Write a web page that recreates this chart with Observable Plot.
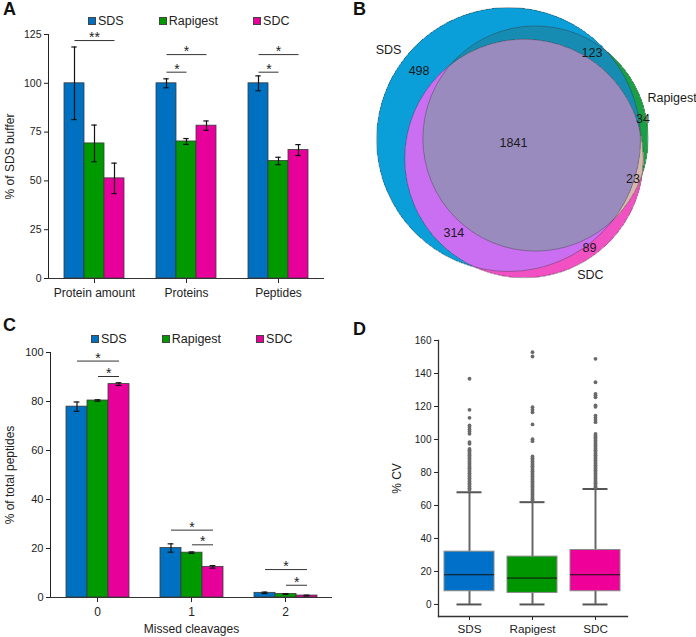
<!DOCTYPE html>
<html>
<head>
<meta charset="utf-8">
<script src="https://cdn.jsdelivr.net/npm/d3@7"></script>
<script src="https://cdn.jsdelivr.net/npm/@observablehq/plot@0.6"></script>
<style>
html, body { margin: 0; padding: 0; background: #fff; }
#fig { position: relative; width: 696px; height: 637px; overflow: hidden; font-family: "Liberation Sans", Arial, sans-serif; color: #222; }
.abs { position: absolute; }
.letter { font-weight: bold; font-size: 18px; line-height: 18px; color: #111; }
.legend { display: flex; gap: 35px; font-size: 12.5px; line-height: 14px; white-space: nowrap; }
.legend .item { display: flex; align-items: center; gap: 2px; }
.legend i { display: inline-block; width: 6px; height: 6px; border: 0.5px solid #444; }
.pa [aria-label="y-axis tick label"] { font-size: 10.5px; }
.pc [aria-label="y-axis tick label"] { font-size: 11px; }
.pd [aria-label="y-axis tick label"] { font-size: 10px; }
.pd [aria-label="x-axis tick label"] { font-size: 11.7px; }
</style>
</head>
<body>
<div id="fig"></div>
<script>
// ---------- shared categories ----------
const series = ["SDS", "Rapigest", "SDC"];

// ---------- Panel A data ----------
const groupsA = ["Protein amount", "Proteins", "Peptides"];
const sdsA = [100, 100, 100];
const rapigestA = [69.2, 70.2, 60.2];
const sdcA = [51.3, 78.3, 65.8];
const sdsErrA = [18.6, 2.3, 3.8];
const rapigestErrA = [9.4, 1.5, 1.9];
const sdcErrA = [7.8, 2.4, 2.8];
const yTicksA = [0, 25, 50, 75, 100, 125];
const sigA = [
  {group: "Protein amount", from: "SDS", to: "SDC", y: 121.9, label: "**"},
  {group: "Proteins", from: "SDS", to: "SDC", y: 114.7, label: "*"},
  {group: "Proteins", from: "SDS", to: "Rapigest", y: 105.7, label: "*"},
  {group: "Peptides", from: "SDS", to: "SDC", y: 114.7, label: "*"},
  {group: "Peptides", from: "SDS", to: "Rapigest", y: 105.7, label: "*"}
];

// ---------- Panel B data ----------
const vennRegionKeys = ["SDS", "SDS&Rapigest", "Rapigest", "SDS&Rapigest&SDC", "Rapigest&SDC", "SDS&SDC", "SDC"];
const vennRegionCounts = [498, 123, 34, 1841, 23, 314, 89];

// ---------- Panel C data ----------
const groupsC = ["0", "1", "2"];
const sdsC = [77.9, 20.2, 1.9];
const rapigestC = [80.4, 18.3, 1.4];
const sdcC = [87.1, 12.5, 0.8];
const sdsErrC = [1.9, 1.7, 0.3];
const rapigestErrC = [0.3, 0.3, 0.15];
const sdcErrC = [0.55, 0.5, 0.15];
const yTicksC = [0, 20, 40, 60, 80, 100];
const sigC = [
  {group: "0", from: "SDS", to: "SDC", y: 96.5, label: "*"},
  {group: "0", from: "Rapigest", to: "SDC", y: 90.2, label: "*"},
  {group: "1", from: "SDS", to: "SDC", y: 27.5, label: "*"},
  {group: "1", from: "Rapigest", to: "SDC", y: 21.5, label: "*"},
  {group: "2", from: "SDS", to: "SDC", y: 11.4, label: "*"},
  {group: "2", from: "Rapigest", to: "SDC", y: 5.0, label: "*"}
];

// ---------- Panel D data ----------
const boxQ1 = [8, 7, 8];
const boxMedian = [18, 16, 18];
const boxQ3 = [32, 29, 33];
const whiskerLow = [0, 0, 0];
const whiskerHigh = [68, 62, 70];
const outliersSDS = [136.8, 118, 113.1, 108.5, 107.5, 106.1, 104.8, 103.4, 98.4, 97.4,
  94.3, 93.5, 92.5, 91.5, 90.5, 89.5, 88.5, 87.5, 86.5, 85.5, 84.5, 83.5, 82.5, 81.5, 80.5,
  79.5, 78.5, 77.5, 76.5, 75.5, 74.5, 73.5, 72.5, 71.5, 70.5, 69.5];
const outliersRapigest = [152.9, 150.3, 119.6, 118, 116.5, 109.1, 100.2, 99,
  89.7, 88.7, 87.7, 86.7, 85.7, 84.7, 83.7, 82.7, 81.7, 80.7, 79.7, 78.7, 77.7, 76.7, 75.7,
  74.7, 73.7, 72.7, 71.7, 70.7, 69.7, 68.7, 67.7, 66.7, 65.7, 64.7, 63.7, 62.8];
const outliersSDC = [148.9, 134.7, 127.7, 126.7, 125.6, 120.6, 119.8, 114.5, 113.1, 111.8, 110.5,
  103.4, 102.4, 101.4, 100.4, 99.4, 98.4, 97.4, 96.4, 95.4, 94.4, 93.4, 92.4, 91.4, 90.4,
  89.4, 88.4, 87.4, 86.4, 85.4, 84.4, 83.4, 82.4, 81.4, 80.4, 79.4, 78.4, 77.4, 76.4, 75.4,
  74.4, 73.4, 72.4, 71.4, 70.8];
const yTicksD = [0, 20, 40, 60, 80, 100, 120, 140, 160];

// ---------- styles / layout ----------
const seriesColors = ["#0070c0", "#009a00", "#e8009a"];
const boxColors = ["#0070c8", "#009600", "#ee0099"];
const FONT = '"Liberation Sans", Arial, sans-serif';
const vennRegionColors = {
  "SDS": "#0a9fd8",
  "SDS&Rapigest": "#178cb3",
  "Rapigest": "#1a9f45",
  "SDS&SDC": "#ca6ff1",
  "SDC": "#f251c3",
  "SDS&Rapigest&SDC": "#9a8bbf",
  "Rapigest&SDC": "#d6b8ad"
};
// Venn layout in sqrt(count) units (circle area proportional to set size)
const vennCenters = {SDS: [0, 0], Rapigest: [10.78, 0.4], SDC: [6.2, -7.58]};
const vennLabelPos = {
  "SDS": [-35.7, 27.5], "SDS&Rapigest": [33.3, 34.7], "Rapigest": [53.7, 8.0],
  "SDS&Rapigest&SDC": [2.0, -1.2], "Rapigest&SDC": [49.7, -15.6], "SDS&SDC": [-21.8, -37.5],
  "SDC": [32.3, -43.5]
};
const vennSetLabelPos = {SDS: [-47.9, 35.9], Rapigest: [65.3, 16.4], SDC: [32.7, -53.9]};

const fig = document.getElementById("fig");
function place(el, left, top, cls) {
  const d = document.createElement("div");
  d.className = "abs " + (cls || "");
  d.style.left = left + "px";
  d.style.top = top + "px";
  d.append(el);
  fig.append(d);
  return d;
}
function letter(t) {
  const s = document.createElement("div");
  s.className = "letter";
  s.textContent = t;
  return s;
}
function legend() {
  const d = document.createElement("div");
  d.className = "legend";
  series.forEach((s, i) => {
    const it = document.createElement("span");
    it.className = "item";
    const sw = document.createElement("i");
    sw.style.background = seriesColors[i];
    it.append(sw, document.createTextNode(s));
    d.append(it);
  });
  return d;
}

function groupedBars(o) {
  const rows = [];
  o.groups.forEach((g, gi) => series.forEach((s, si) =>
    rows.push({group: g, series: s, value: o.values[si][gi], err: o.errs[si][gi]})));
  const innerW = o.width - o.marginLeft - o.marginRight;
  const bw = innerW / o.groups.length / (3 + 2 * o.po);
  const idx = (s) => series.indexOf(s);
  const sig2 = o.sig.filter(d => idx(d.to) - idx(d.from) === 2);
  const sig1 = o.sig.filter(d => idx(d.to) - idx(d.from) === 1);
  return Plot.plot({
    width: o.width, height: o.height,
    marginLeft: o.marginLeft, marginRight: o.marginRight, marginTop: o.marginTop, marginBottom: o.marginBottom,
    style: {fontFamily: FONT, fontSize: "12px", color: "#222", background: "transparent", overflow: "visible"},
    fx: {domain: o.groups, padding: 0, axis: "bottom", label: o.fxLabel, tickSize: 5, tickPadding: 5,
         labelAnchor: "center", labelOffset: o.fxLabelOffset},
    x: {domain: series, paddingInner: 0, paddingOuter: o.po, axis: null},
    y: {domain: o.yDomain, ticks: o.yTicks, tickSize: 4, tickPadding: 3, line: true, label: o.yLabel,
        labelAnchor: "center", labelOffset: o.yLabelOffset, labelArrow: "none"},
    color: {domain: series, range: seriesColors},
    marks: [
      Plot.barY(rows, {fx: "group", x: "series", y: "value", fill: "series", stroke: "#3a3a3a", strokeWidth: 0.8}),
      Plot.ruleY([o.yDomain[0]], {stroke: "#333", strokeWidth: 1}),
      Plot.ruleX(rows, {fx: "group", x: "series", y1: d => d.value - d.err, y2: d => d.value + d.err, stroke: "#111", strokeWidth: 1.2}),
      Plot.tickY(rows, {fx: "group", x: "series", y: d => d.value - d.err, inset: o.capInset, stroke: "#111", strokeWidth: 1.2}),
      Plot.tickY(rows, {fx: "group", x: "series", y: d => d.value + d.err, inset: o.capInset, stroke: "#111", strokeWidth: 1.2}),
      Plot.link(o.sig, {fx: "group", x1: "from", x2: "to", y1: "y", y2: "y", stroke: "#333", strokeWidth: 1}),
      Plot.text(sig2, {fx: "group", x: d => series[idx(d.from) + 1], y: "y", text: "label", fontSize: 14, dy: -3, fill: "#222"}),
      Plot.text(sig1, {fx: "group", x: "from", y: "y", text: "label", fontSize: 14, dx: bw / 2, dy: -3, fill: "#222"})
    ]
  });
}

// ---------- Panel A ----------
place(letter("A"), 3, 0);
place(groupedBars({
  groups: groupsA, values: [sdsA, rapigestA, sdcA], errs: [sdsErrA, rapigestErrA, sdcErrA], sig: sigA,
  width: 340, height: 290, marginLeft: 47, marginRight: 15, marginTop: 14, marginBottom: 32,
  po: 0.738, capInset: 7.3, yDomain: [0, 125], yTicks: yTicksA, yLabel: "% of SDS buffer", yLabelOffset: 43,
  fxLabel: null, fxLabelOffset: 30
}), 0, 20, "pa");
place(legend(), 88, 14);

// ---------- Panel C ----------
place(letter("C"), 3, 316);
place(groupedBars({
  groups: groupsC, values: [sdsC, rapigestC, sdcC], errs: [sdsErrC, rapigestErrC, sdcErrC], sig: sigC,
  width: 340, height: 297, marginLeft: 49, marginRight: 8, marginTop: 12, marginBottom: 40,
  po: 0.724, capInset: 7.6, yDomain: [0, 100], yTicks: yTicksC, yLabel: "% of total peptides", yLabelOffset: 45,
  fxLabel: "Missed cleavages", fxLabelOffset: 35
}), 0, 340, "pc");
place(legend(), 91, 332);

// ---------- Panel B (Venn) ----------
place(letter("B"), 353, 0);
(function () {
  const W = 356, H = 300;
  const pxPerUnit = 2.505;
  const xDom = [-168 / pxPerUnit, (W - 168) / pxPerUnit];
  const yDom = [-(H - 139) / pxPerUnit, 139 / pxPerUnit];
  const totals = series.map(s => d3.sum(vennRegionKeys.map((k, i) => k.split("&").includes(s) ? vennRegionCounts[i] : 0)));
  const circles = series.map((s, i) => ({set: s, cx: vennCenters[s][0], cy: vennCenters[s][1], radius: Math.sqrt(totals[i])}));
  const regionOf = (x, y) => {
    const inside = circles.filter(c => (x - c.cx) ** 2 + (y - c.cy) ** 2 <= c.radius ** 2).map(c => c.set);
    return inside.length ? vennRegionColors[inside.join("&")] : "#ffffff";
  };
  const ext = circles.map(c => [c.cx - c.radius, c.cx + c.radius, c.cy - c.radius, c.cy + c.radius]);
  const regionLabels = vennRegionKeys.map((k, i) => ({text: String(vennRegionCounts[i]), x: vennLabelPos[k][0], y: vennLabelPos[k][1]}));
  const setLabels = series.map(s => ({text: s, x: vennSetLabelPos[s][0], y: vennSetLabelPos[s][1]}));
  const chart = Plot.plot({
    width: W, height: H, margin: 0,
    style: {fontFamily: FONT, fontSize: "12.5px", color: "#222", background: "transparent", overflow: "visible"},
    x: {domain: xDom, axis: null},
    y: {domain: yDom, axis: null},
    r: {type: "linear", domain: [0, 1], range: [0, pxPerUnit]},
    color: {type: "identity"},
    marks: [
      Plot.raster({
        x1: d3.min(ext, e => e[0]) - 1, x2: d3.max(ext, e => e[1]) + 1,
        y1: d3.min(ext, e => e[2]) - 1, y2: d3.max(ext, e => e[3]) + 1,
        fill: regionOf, pixelSize: 1
      }),
      Plot.dot(circles, {x: "cx", y: "cy", r: "radius", stroke: "#333", strokeOpacity: 0.55, strokeWidth: 0.7, fill: "none"}),
      Plot.text(regionLabels, {x: "x", y: "y", text: "text", fill: "#1a1a1a", fontSize: 12.5}),
      Plot.text(setLabels, {x: "x", y: "y", text: "text", fill: "#1a1a1a", fontSize: 12.5})
    ]
  });
  place(chart, 340, 0);
})();

// ---------- Panel D (box plot) ----------
place(letter("D"), 353, 320);
(function () {
  const boxes = series.map((s, i) => ({series: s, q1: boxQ1[i], median: boxMedian[i], q3: boxQ3[i], lo: whiskerLow[i], hi: whiskerHigh[i]}));
  const outliers = [
    ...outliersSDS.map(v => ({series: "SDS", value: v})),
    ...outliersRapigest.map(v => ({series: "Rapigest", value: v})),
    ...outliersSDC.map(v => ({series: "SDC", value: v}))
  ];
  const chart = Plot.plot({
    width: 356, height: 317, marginLeft: 98, marginRight: 69, marginTop: 20, marginBottom: 21,
    style: {fontFamily: FONT, fontSize: "12px", color: "#222", background: "transparent", overflow: "visible"},
    x: {domain: series, paddingInner: 0.206, paddingOuter: 0.103, tickSize: 4, tickPadding: 4, label: null},
    y: {domain: [-7.3, 160], ticks: yTicksD, tickSize: 4, tickPadding: 3, label: "% CV",
        labelAnchor: "center", labelOffset: 46, labelArrow: "none"},
    color: {domain: series, range: boxColors},
    marks: [
      Plot.frame({anchor: "left", stroke: "#333", strokeWidth: 1.3}),
      Plot.frame({anchor: "bottom", stroke: "#333", strokeWidth: 1.3}),
      Plot.ruleX(boxes, {x: "series", y1: "lo", y2: "hi", stroke: "#666", strokeWidth: 2}),
      Plot.tickY(boxes, {x: "series", y: "lo", inset: 12.5, stroke: "#555", strokeWidth: 2}),
      Plot.tickY(boxes, {x: "series", y: "hi", inset: 12.5, stroke: "#555", strokeWidth: 2}),
      Plot.barY(boxes, {x: "series", y1: "q1", y2: "q3", fill: "series", stroke: "#8a8a8a", strokeWidth: 1}),
      Plot.tickY(boxes, {x: "series", y: "median", stroke: "#111", strokeWidth: 1}),
      Plot.dot(outliers, {x: "series", y: "value", r: 1.9, fill: "#6a6a6a"})
    ]
  });
  place(chart, 340, 320, "pd");
})();
</script>
</body>
</html>
